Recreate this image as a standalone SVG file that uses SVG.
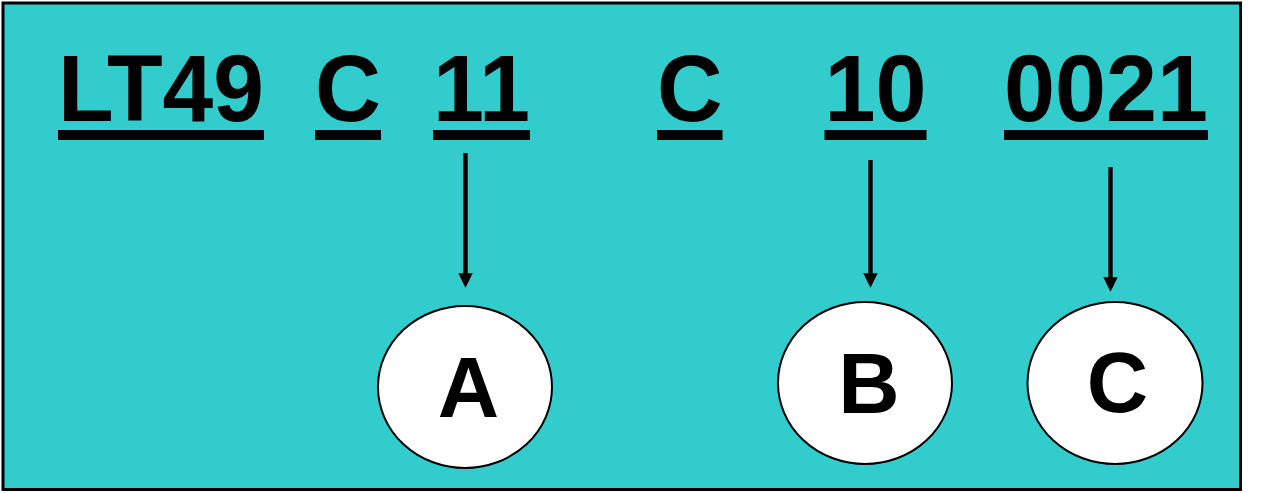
<svg xmlns="http://www.w3.org/2000/svg" width="1265" height="493" viewBox="0 0 1265 493">
<style>
.code{font-family:"Liberation Sans",Arial,sans-serif;font-weight:bold;font-size:94px;fill:#000}
.lbl{font-family:"Liberation Sans",Arial,sans-serif;font-weight:bold;font-size:85px;fill:#000;text-anchor:middle}
.ul{fill:#000}
.node ellipse{fill:#fff;stroke:#000;stroke-width:2}
.conn line{stroke:#000;stroke-width:4.4}
.conn polygon{fill:#000}
</style>
<rect x="3" y="3" width="1237.5" height="486.5" fill="#33CCCC" stroke="#000" stroke-width="3"/>
<g id="code">
<text class="code" x="58" y="121" textLength="206" lengthAdjust="spacingAndGlyphs">LT49</text>
<rect class="ul" x="58" y="130" width="206" height="10"/>
<text class="code" x="315" y="121" textLength="66" lengthAdjust="spacingAndGlyphs">C</text>
<rect class="ul" x="315" y="130" width="66" height="10"/>
<text class="code" x="433" y="121" textLength="97" lengthAdjust="spacingAndGlyphs">11</text>
<rect class="ul" x="433" y="130" width="97" height="10"/>
<text class="code" x="657" y="121" textLength="65.5" lengthAdjust="spacingAndGlyphs">C</text>
<rect class="ul" x="657" y="130" width="65.5" height="10"/>
<text class="code" x="824.5" y="121" textLength="102" lengthAdjust="spacingAndGlyphs">10</text>
<rect class="ul" x="824.5" y="130" width="102" height="10"/>
<text class="code" x="1004" y="121" textLength="204" lengthAdjust="spacingAndGlyphs">0021</text>
<rect class="ul" x="1004" y="130" width="204" height="10"/>
</g>
<g id="connectors" class="conn">
<line x1="465.5" y1="153" x2="465.5" y2="274"/>
<polygon points="458.3,273.3 472.7,273.3 465.5,287.7"/>
<line x1="870.5" y1="160" x2="870.5" y2="274"/>
<polygon points="863.3,273.3 877.7,273.3 870.5,287.7"/>
<line x1="1110.5" y1="167" x2="1110.5" y2="278"/>
<polygon points="1103.3,277.3 1117.7,277.3 1110.5,291.7"/>
</g>
<g id="node-A" class="node">
<ellipse cx="465" cy="387" rx="87" ry="81"/>
<text class="lbl" x="468.5" y="416.5">A</text>
</g>
<g id="node-B" class="node">
<ellipse cx="865" cy="383" rx="87" ry="81"/>
<text class="lbl" x="869" y="413.3">B</text>
</g>
<g id="node-C" class="node">
<ellipse cx="1115" cy="383" rx="87.5" ry="81"/>
<text class="lbl" x="1117.5" y="411.5">C</text>
</g>
</svg>
